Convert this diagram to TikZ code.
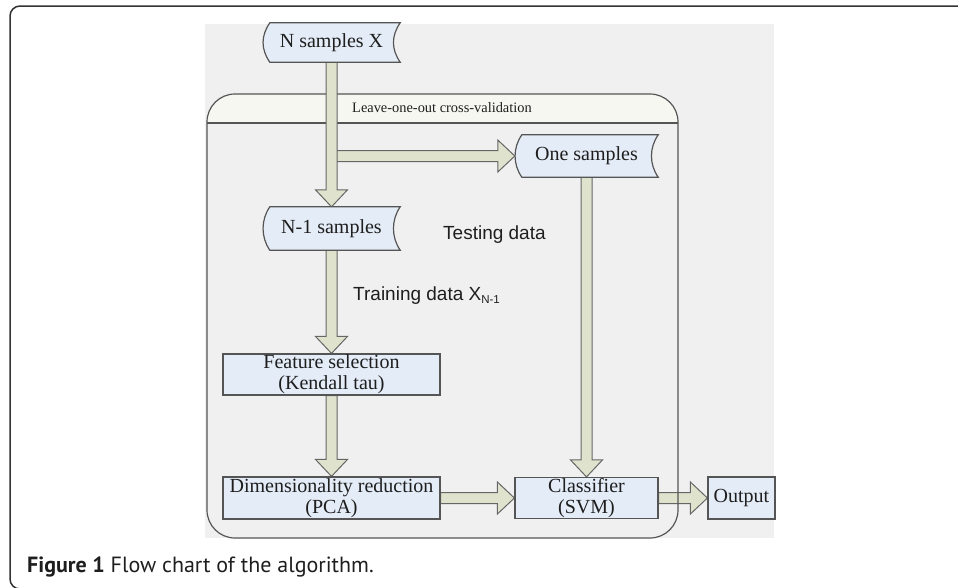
\documentclass[tikz,border=0pt]{standalone}
\usepackage{fontspec}
\setmainfont{Liberation Serif}
\setsansfont{Liberation Sans}
\newfontfamily\captionsans{PT Sans}
\usetikzlibrary{calc}
\pgfdeclarelayer{back}
\pgfsetlayers{back,main}

\definecolor{boxfill}{HTML}{E4ECF7}
\definecolor{boxline}{HTML}{555555}
\definecolor{arrowfill}{HTML}{DFE3CE}
\definecolor{arrowline}{HTML}{666666}
\definecolor{panel}{HTML}{F0F0F0}
\definecolor{headerfill}{HTML}{F7F7F2}
\definecolor{framecol}{HTML}{333333}
\definecolor{inktext}{HTML}{1E1E1E}

\tikzset{
  boxtext/.style={inner sep=0pt, font=\fontsize{20}{21}\selectfont, text=inktext, align=center},
  plainbox/.style={boxtext, rectangle, draw=boxline, fill=boxfill, line width=1.2pt},
  storedbox/.style={boxtext, rectangle},
  blockdown/.style={draw=arrowline, fill=arrowfill, line width=1pt, line join=miter,
    to path={let \p1=(\tikztostart), \p2=(\tikztotarget) in
      (\x1-5.5pt,\y1) -- (\x1-5.5pt,\y2+17pt) -- (\x1-16pt,\y2+17pt) -- (\x1,\y2)
      -- (\x1+16pt,\y2+17pt) -- (\x1+5.5pt,\y2+17pt) -- (\x1+5.5pt,\y1) -- cycle}},
  blockright/.style={draw=arrowline, fill=arrowfill, line width=1pt, line join=miter,
    to path={let \p1=(\tikztostart), \p2=(\tikztotarget) in
      (\x1,\y1-5.5pt) -- (\x2-17pt,\y1-5.5pt) -- (\x2-17pt,\y1-16pt) -- (\x2,\y1)
      -- (\x2-17pt,\y1+16pt) -- (\x2-17pt,\y1+5.5pt) -- (\x1,\y1+5.5pt) -- cycle}},
  labelsans/.style={font=\sffamily\fontsize{19}{19}\selectfont, text=inktext, inner sep=0pt, anchor=west},
  containerline/.style={draw=boxline, line width=1.2pt}
}

% outline of a "stored data" box: concave right side, convex left side
\newcommand\storedoutline[1]{%
  \filldraw[draw=boxline, fill=boxfill, line width=1.2pt]
    ($(#1.north west)+(7,0)$) -- (#1.north east)
    .. controls +(-9,13) and +(-9,-13) .. (#1.south east)
    -- ($(#1.south west)+(7,0)$)
    .. controls +(-9,-13) and +(-9,13) .. ($(#1.north west)+(7,0)$) -- cycle;}

\begin{document}
\begin{tikzpicture}[x=1pt,y=-1pt]
\useasboundingbox (0,0) rectangle (958,587);

% boxes
\node[storedbox, minimum width=137, minimum height=39] (nx) at (331.5,42.5) {N samples X};
\node[storedbox, minimum width=143, minimum height=42] (one) at (586.5,156) {One samples};
\node[storedbox, minimum width=137, minimum height=43] (n1) at (331.5,228.5) {N-1 samples};
\node[plainbox, minimum width=217, minimum height=41] (fs) at (331.5,374.5) {Feature selection\\(Kendall tau)};
\node[plainbox, minimum width=217, minimum height=42] (dr) at (331.5,498) {Dimensionality reduction\\(PCA)};
\node[plainbox, minimum width=143, minimum height=41] (cls) at (586.5,498) {Classifier\\(SVM)};
\node[plainbox, minimum width=67, minimum height=42] (out) at (741.5,498) {Output};

% labels
\node[anchor=west, inner sep=0pt, font=\fontsize{14.4}{15}\selectfont, text=inktext] (loo) at (352,108) {Leave-one-out cross-validation};
\node[labelsans] (testlbl) at (443,235) {Testing data};
\node[labelsans] (trainlbl) at (353,296) {Training data X\raisebox{-0.3ex}{\fontsize{11.5}{12}\selectfont N-1}};
\node[anchor=base west, inner sep=0pt, font=\captionsans\fontsize{22}{22}\selectfont, text=inktext] (cap) at (27,572) {\textbf{Figure 1} Flow chart of the algorithm.};

\coordinate (split) at (nx.south |- one.west);

\begin{pgfonlayer}{back}
  % outer figure frame
  \draw[framecol, line width=1.5pt, rounded corners=10] (965,6) -- (10,6) -- (10,589) -- (40,589);
  % grey drawing area
  \fill[panel] (205,24) rectangle (774,538);
  % cross-validation container with its title band
  \fill[panel, rounded corners=28] (207,94) rectangle (678,538);
  \begin{scope}
    \clip (200,90) rectangle (690,123);
    \fill[headerfill, rounded corners=28] (207,94) rectangle (678,538);
  \end{scope}
  \draw[blockright] (cls.east) to (out.west);
  \draw[containerline, rounded corners=28] (207,94) rectangle (678,538);
  \draw[containerline] (207,123) -- (678,123);
  % flow arrows
  \draw[blockright] (split) to (one.west);
  \draw[blockdown] (nx.south) to (n1.north);
  \draw[blockdown] (one.south) to (cls.north);
  \draw[blockdown] (n1.south) to (fs.north);
  \draw[blockdown] (fs.south) to (dr.north);
  \draw[blockright] (dr.east) to (cls.west);
  % stored-data outlines
  \storedoutline{nx}
  \storedoutline{one}
  \storedoutline{n1}
\end{pgfonlayer}
\end{tikzpicture}
\end{document}
